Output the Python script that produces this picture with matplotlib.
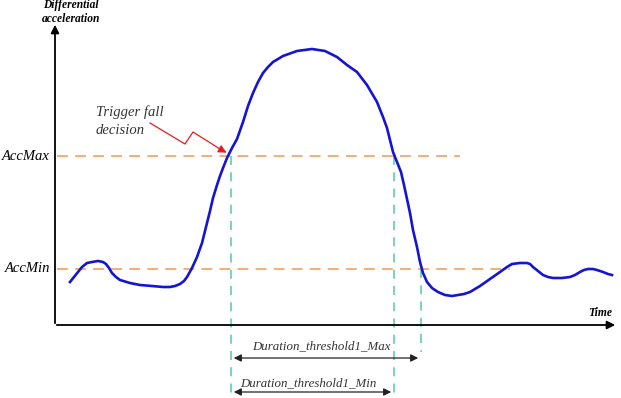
import numpy as np
import matplotlib.pyplot as plt

# curve traced in picture coordinates (x to the right, y downwards)
curve_x = [70, 74, 78, 82, 87, 92, 98, 103, 106, 109, 112, 116, 120, 130, 140, 152, 163,
           170, 175, 180, 184, 187, 192, 197, 202, 206, 210, 213, 217, 220, 223,
           227, 232, 237, 243, 248, 253, 258, 263, 268, 273, 283, 297, 312, 325,
           337, 347, 357, 367, 377, 383, 387, 390, 393, 397, 401, 404, 407, 410, 413,
           417, 420, 423, 427, 432, 438, 445, 452, 458, 464, 470, 480, 490, 500,
           507, 512, 520, 527, 530, 533, 538, 543, 548, 553, 562, 570, 575, 580,
           584, 588, 593, 597, 603, 608, 612]
curve_y = [282, 277, 272, 267, 263, 262, 261, 262, 264, 268, 273, 277, 280, 283, 285, 286, 287,
           287, 286, 284, 281, 277, 268, 257, 243, 227, 211, 198, 185, 176, 168,
           158, 148, 139, 122, 106, 93, 82, 73, 67, 62, 56, 51, 49, 51,
           57, 65, 72, 85, 102, 117, 128, 140, 152, 162, 172, 185, 199, 213, 230,
           247, 262, 273, 282, 288, 292, 295, 296, 295, 294, 292, 286, 279, 272,
           267, 264, 263, 263, 264, 267, 271, 275, 277, 278, 278, 277, 275, 272,
           270, 269, 269, 270, 272, 274, 275]

acc_max = 156
acc_min = 269
t_left = 231
t_mid = 394
t_right = 421

fig = plt.figure(figsize=(6.21, 3.98), dpi=100)
ax = fig.add_axes([0, 0, 1, 1])
ax.set_xlim(0, 621)
ax.set_ylim(398, 0)
ax.axis('off')

serif = 'Liberation Serif'

# axes arrows
ax.annotate('', xy=(55, 22), xytext=(55, 326),
            arrowprops=dict(arrowstyle='-|>', color='black', lw=1.3, mutation_scale=12))
ax.annotate('', xy=(618, 325), xytext=(54, 325),
            arrowprops=dict(arrowstyle='-|>', color='black', lw=1.3, mutation_scale=12))
ax.text(71, 12, 'Differential\nacceleration', ha='center', va='center', fontsize=8.3,
        family=serif, style='italic', weight='bold', linespacing=1.25)
ax.text(612, 313, 'Time', ha='right', va='center', fontsize=8.3,
        family=serif, style='italic', weight='bold')

# thresholds
orange = '#f0a870'
ax.plot([57, 460], [acc_max, acc_max], color=orange, lw=1.3, dashes=(6, 4))
ax.plot([57, 510], [acc_min, acc_min], color=orange, lw=1.3, dashes=(6, 4))
ax.text(50, acc_max, 'AccMax', ha='right', va='center', fontsize=10.5, family=serif, style='italic')
ax.text(50, acc_min, 'AccMin', ha='right', va='center', fontsize=10.5, family=serif, style='italic')

# duration markers
green = '#70d0b0'
ax.plot([t_left, t_left], [acc_max, 398], color=green, lw=1.3, dashes=(5, 4))
ax.plot([t_mid, t_mid], [acc_max, 398], color=green, lw=1.3, dashes=(5, 4))
ax.plot([t_right, t_right], [acc_min, 352], color=green, lw=1.3, dashes=(5, 4))

ax.plot(curve_x, curve_y, color='#1414d2', lw=1.9, solid_joinstyle='round')

ax.annotate('', xy=(t_left, 358), xytext=(t_right, 358),
            arrowprops=dict(arrowstyle='<|-|>', color='#222222', lw=0.9, mutation_scale=11))
ax.annotate('', xy=(t_left, 392), xytext=(t_mid, 392),
            arrowprops=dict(arrowstyle='<|-|>', color='#222222', lw=0.9, mutation_scale=11))
ax.text(321, 346, 'Duration_threshold1_Max', ha='center', va='center', fontsize=9.3,
        family=serif, style='italic', color='#333333')
ax.text(308, 383, 'Duration_threshold1_Min', ha='center', va='center', fontsize=9.3,
        family=serif, style='italic', color='#333333')

# trigger annotation
ax.text(96, 121, 'Trigger fall\ndecision', ha='left', va='center', fontsize=10.5,
        family=serif, style='italic', color='#333333', linespacing=1.45)
ax.plot([150, 185, 193, 220], [123, 144, 132, 149], color='#e02020', lw=0.9)
ax.annotate('', xy=(229, 154), xytext=(218, 148),
            arrowprops=dict(arrowstyle='-|>', color='#e02020', lw=0.9, mutation_scale=12))

fig.savefig('out.png', dpi=100)
